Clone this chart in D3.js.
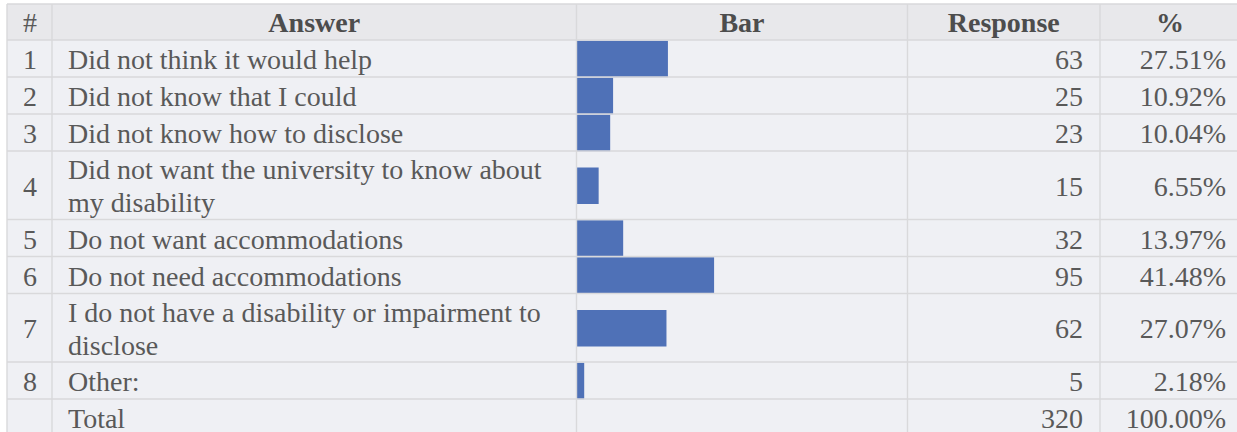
<!DOCTYPE html>
<html>
<head>
<meta charset="utf-8">
<script src="https://cdn.jsdelivr.net/npm/d3@7"></script>
<style>
  html, body { margin: 0; padding: 0; background: #ffffff; }
  svg { display: block; }
</style>
</head>
<body>
<svg id="chart" width="1237" height="432"></svg>
<script>
// ---- data ----
const headers = ["#", "Answer", "Bar", "Response", "%"];
const numbers = ["1", "2", "3", "4", "5", "6", "7", "8"];
const answers = [
  "Did not think it would help",
  "Did not know that I could",
  "Did not know how to disclose",
  "Did not want the university to know about my disability",
  "Do not want accommodations",
  "Do not need accommodations",
  "I do not have a disability or impairment to disclose",
  "Other:"
];
const responses = [63, 25, 23, 15, 32, 95, 62, 5];
const percents = [27.51, 10.92, 10.04, 6.55, 13.97, 41.48, 27.07, 2.18];
const totalLabel = "Total";
const totalResponses = 320;
const totalPercent = 100.00;

// ---- layout ----
const W = 1237, H = 432;
const colEdges = [7, 52, 576.5, 907.5, 1100, 1260];
const tableTop = 4;
const headerH = 36;
const rowLineH = 31.5;
const padV = 5.5;
const textLineH = 33;
const fontSize = 28;
const fontFamily = "'Liberation Serif', 'Times New Roman', serif";
const textColor = "#595959";
const headColor = "#4d4d4d";
const gridColor = "#d9d9db";
const bodyBg = "#eff0f4";
const headBg = "#e8e8eb";
const barColor = "#4f71b7";
const padL = 16, padR = 17;

const svg = d3.select("#chart");

// measure / wrap answer text
const measure = svg.append("text")
  .attr("font-family", fontFamily).attr("font-size", fontSize).attr("visibility", "hidden");
function wrap(str, maxW) {
  const words = str.split(" ");
  const lines = [];
  let cur = "";
  for (const w of words) {
    const t = cur ? cur + " " + w : w;
    measure.text(t);
    if (measure.node().getComputedTextLength() > maxW && cur) {
      lines.push(cur);
      cur = w;
    } else cur = t;
  }
  lines.push(cur);
  return lines;
}
const ansMaxW = colEdges[2] - colEdges[1] - padL - 16;

const rows = answers.map((a, i) => ({
  num: numbers[i], lines: wrap(a, ansMaxW), resp: responses[i], pct: percents[i], bar: true
}));
rows.push({ num: "", lines: [totalLabel], resp: totalResponses, pct: totalPercent, bar: false });
measure.remove();

let yCur = tableTop + headerH;
rows.forEach(r => {
  r.h = r.lines.length * rowLineH + padV;
  r.y0 = yCur;
  yCur += r.h;
});

// bar scale (percent across bar column)
const x = d3.scaleLinear().domain([0, 100]).range([colEdges[2] + 0.5, colEdges[3]]);

// backgrounds
svg.append("rect").attr("x", colEdges[0]).attr("y", tableTop)
  .attr("width", W - colEdges[0]).attr("height", headerH).attr("fill", headBg);
svg.append("rect").attr("x", colEdges[0]).attr("y", tableTop + headerH)
  .attr("width", W - colEdges[0]).attr("height", H - tableTop - headerH).attr("fill", bodyBg);

// bars
const barH = 36.5;
svg.append("g").selectAll("rect")
  .data(rows.filter(r => r.bar))
  .join("rect")
  .attr("x", x(0))
  .attr("y", r => r.y0 + r.h / 2 - barH / 2 + 0.5)
  .attr("width", r => x(r.pct) - x(0))
  .attr("height", barH)
  .attr("fill", barColor);

// grid lines
const grid = svg.append("g").attr("stroke", gridColor).attr("stroke-width", 1.4);
const hLines = [tableTop, tableTop + headerH].concat(rows.map(r => r.y0 + r.h));
grid.selectAll("line.h").data(hLines).join("line").attr("class", "h")
  .attr("x1", colEdges[0]).attr("x2", W).attr("y1", d => d).attr("y2", d => d);
grid.selectAll("line.v").data(colEdges.slice(0, 5)).join("line").attr("class", "v")
  .attr("x1", d => d).attr("x2", d => d).attr("y1", tableTop).attr("y2", H);

// header text
const colCenters = [0, 1, 2, 3, 4].map(i => (colEdges[i] + colEdges[i + 1]) / 2);
colCenters[0] = 30;
colCenters[4] = (colEdges[4] + 1240) / 2;
svg.append("g").selectAll("text").data(headers).join("text")
  .attr("x", (d, i) => colCenters[i])
  .attr("y", tableTop + headerH / 2 + 10.3)
  .attr("text-anchor", "middle")
  .attr("font-family", fontFamily)
  .attr("font-size", fontSize)
  .attr("font-weight", (d, i) => i === 0 ? "normal" : "bold")
  .attr("fill", (d, i) => i === 0 ? textColor : headColor)
  .text(d => d);

// body text
const body = svg.append("g").attr("font-family", fontFamily).attr("font-size", fontSize).attr("fill", textColor);
rows.forEach(r => {
  const cy = r.y0 + r.h / 2 + 10.6;
  body.append("text").attr("x", colCenters[0]).attr("y", cy).attr("text-anchor", "middle").text(r.num);
  const n = r.lines.length;
  r.lines.forEach((ln, k) => {
    body.append("text").attr("x", colEdges[1] + padL)
      .attr("y", cy + (k - (n - 1) / 2) * textLineH).text(ln);
  });
  body.append("text").attr("x", colEdges[4] - padR).attr("y", cy).attr("text-anchor", "end").text(r.resp);
  body.append("text").attr("x", 1226).attr("y", cy).attr("text-anchor", "end").text(d3.format(".2f")(r.pct) + "%");
});
</script>
</body>
</html>
